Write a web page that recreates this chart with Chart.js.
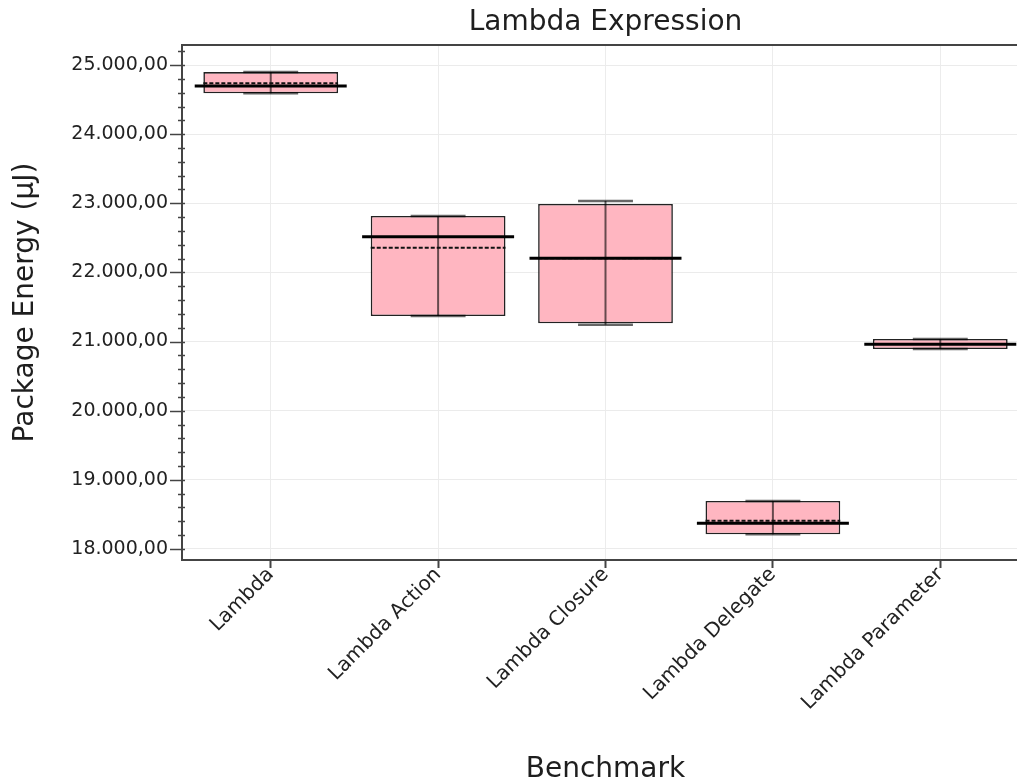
<!DOCTYPE html>
<html>
<head>
<meta charset="utf-8">
<title>Lambda Expression</title>
<script src="https://cdn.jsdelivr.net/npm/chart.js@4"></script>
<style>
  html, body { margin: 0; padding: 0; background: #fff; overflow: hidden; }
  #wrap { width: 1017px; height: 783px; overflow: hidden; }
  canvas { display: block; }
</style>
</head>
<body>
<div id="wrap"><canvas id="chart" width="1029" height="783"></canvas></div>
<script>
// Benchmarks and their package energy statistics (µJ)
const categories = ['Lambda', 'Lambda Action', 'Lambda Closure', 'Lambda Delegate', 'Lambda Parameter'];
const minValues  = [24591, 21370, 21244, 18212, 20892];
const q1Values   = [24591, 21370, 21264, 18212, 20892];
const medians    = [24696, 22517, 22204, 18371, 20960];
const means      = [24735, 22358, 22204, 18409, 20965];
const q3Values   = [24899, 22816, 22990, 18694, 21037];
const maxValues  = [24899, 22816, 23034, 18694, 21037];

// Value axis: labelled major ticks, plus minor ticks in between
const yMajorTicks = [18000, 19000, 20000, 21000, 22000, 23000, 24000, 25000];
const yMinorStep = 200;
const yRange = [17840, 25290];

const FONT = 'DejaVu Sans';
Chart.defaults.font.family = FONT;

function formatEnergy(v) {
  const whole = Math.round(v).toString().replace(/\B(?=(\d{3})+(?!\d))/g, '.');
  return whole + ',00';
}

// Whiskers, caps, mean and median lines, frame and y tick marks
const boxDecor = {
  id: 'boxDecor',
  afterDatasetsDraw(chart) {
    const { ctx, scales: { x, y } } = chart;
    const step = x.getPixelForValue(1) - x.getPixelForValue(0);
    const bars = chart.getDatasetMeta(0).data;
    ctx.save();
    categories.forEach((c, i) => {
      const cx = x.getPixelForValue(i);
      const halfBox = bars[i].width / 2;
      // whisker through the box
      ctx.strokeStyle = 'rgba(0,0,0,0.6)';
      ctx.lineWidth = 2;
      ctx.setLineDash([]);
      ctx.beginPath();
      ctx.moveTo(cx, y.getPixelForValue(minValues[i]));
      ctx.lineTo(cx, y.getPixelForValue(maxValues[i]));
      ctx.stroke();
      // caps
      const capHalf = step * 0.164;
      ctx.strokeStyle = 'rgba(0,0,0,0.6)';
      ctx.lineWidth = 2.5;
      [minValues[i], maxValues[i]].forEach(v => {
        const py = y.getPixelForValue(v);
        ctx.beginPath();
        ctx.moveTo(cx - capHalf, py);
        ctx.lineTo(cx + capHalf, py);
        ctx.stroke();
      });
      // mean (dashed)
      const my = y.getPixelForValue(means[i]);
      ctx.strokeStyle = '#111';
      ctx.lineWidth = 2;
      ctx.setLineDash([4, 2]);
      ctx.beginPath();
      ctx.moveTo(cx - halfBox, my);
      ctx.lineTo(cx + halfBox, my);
      ctx.stroke();
      // median (solid, wider than the box)
      const mdy = y.getPixelForValue(medians[i]);
      const medHalf = step * 0.454;
      ctx.setLineDash([]);
      ctx.strokeStyle = '#000';
      ctx.lineWidth = 3;
      ctx.beginPath();
      ctx.moveTo(cx - medHalf, mdy);
      ctx.lineTo(cx + medHalf, mdy);
      ctx.stroke();
    });
    ctx.restore();
  },
  afterDraw(chart) {
    const { ctx, chartArea: a, scales: { y } } = chart;
    ctx.save();
    // top frame line
    ctx.strokeStyle = '#444';
    ctx.lineWidth = 2;
    ctx.beginPath();
    ctx.moveTo(a.left, a.top);
    ctx.lineTo(a.right, a.top);
    ctx.stroke();
    // y tick marks: long for majors, short for minors
    ctx.lineWidth = 1.5;
    y.ticks.forEach(t => {
      const py = Math.round(y.getPixelForValue(t.value)) + 0.5;
      const major = yMajorTicks.includes(t.value);
      ctx.beginPath();
      ctx.moveTo(a.left - (major ? 12 : 4), py);
      ctx.lineTo(a.left + 3, py);
      ctx.stroke();
    });
    ctx.restore();
  }
};

new Chart(document.getElementById('chart'), {
  type: 'bar',
  data: {
    datasets: [{
      data: categories.map((c, i) => ({ x: i, y: [q1Values[i], q3Values[i]] })),
      backgroundColor: 'rgb(255,182,193)',
      borderColor: '#222',
      borderWidth: 1.6,
      borderSkipped: false,
      categoryPercentage: 1,
      barPercentage: 0.805
    }]
  },
  options: {
    responsive: false,
    animation: false,
    devicePixelRatio: 1,
    layout: { padding: 0 },
    plugins: {
      legend: { display: false },
      tooltip: { enabled: false },
      title: {
        display: true,
        text: 'Lambda Expression',
        fullSize: false,
        color: '#1e1e1e',
        font: { family: FONT, size: 28, weight: 'normal' },
        padding: { top: 6, bottom: 5.4 }
      }
    },
    scales: {
      x: {
        type: 'linear',
        offset: false,
        min: -0.53,
        max: 4.53,
        afterBuildTicks: s => { s.ticks = categories.map((c, i) => ({ value: i })); },
        afterFit: s => { s.height = 223; },
        ticks: {
          autoSkip: false,
          minRotation: 45,
          maxRotation: 45,
          padding: -5,
          color: '#222',
          font: { family: FONT, size: 20 },
          callback: v => categories[v]
        },
        grid: { offset: false, color: '#ececec', lineWidth: 1, tickColor: '#444', tickLength: 8, tickWidth: 2 },
        border: { color: '#444', width: 2 },
        title: {
          display: true,
          text: 'Benchmark',
          color: '#1e1e1e',
          font: { family: FONT, size: 28, weight: 'normal', lineHeight: 1 },
          padding: { top: 0, bottom: -1 }
        }
      },
      y: {
        min: yRange[0],
        max: yRange[1],
        afterBuildTicks: s => {
          const ticks = [];
          for (let v = Math.ceil(yRange[0] / yMinorStep) * yMinorStep; v <= yRange[1]; v += yMinorStep) {
            ticks.push({ value: v });
          }
          s.ticks = ticks;
        },
        afterFit: s => { s.width = 182; },
        ticks: {
          autoSkip: false,
          padding: 14,
          color: '#222',
          font: { family: FONT, size: 19 },
          callback: v => (yMajorTicks.includes(v) ? formatEnergy(v) : '')
        },
        grid: {
          drawTicks: false,
          lineWidth: 1,
          color: c => (c.tick && yMajorTicks.includes(c.tick.value) ? '#ebebeb' : 'rgba(0,0,0,0)')
        },
        border: { color: '#444', width: 2 },
        title: {
          display: true,
          text: 'Package Energy (µJ)',
          color: '#1e1e1e',
          font: { family: FONT, size: 28, weight: 'normal' },
          padding: { top: 9, bottom: 0 }
        }
      }
    }
  },
  plugins: [boxDecor]
});
</script>
</body>
</html>
